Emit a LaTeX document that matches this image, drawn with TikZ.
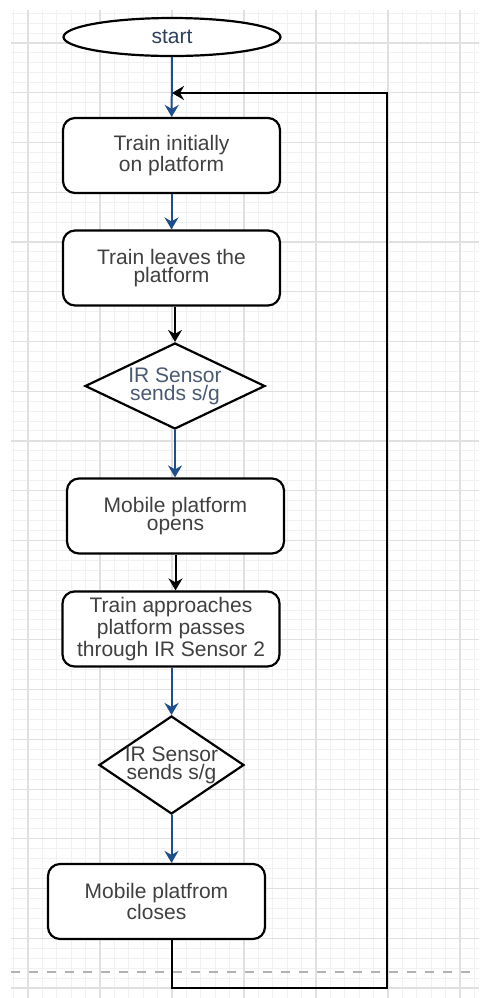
\documentclass[tikz,border=0pt]{standalone}
\usepackage{fontspec}
\setmainfont{Liberation Sans}
\usetikzlibrary{shapes.geometric,arrows.meta}

\definecolor{flowblue}{HTML}{1F4E8C}
\definecolor{startblue}{HTML}{2E405C}
\definecolor{sensorblue}{HTML}{4A5A72}
\definecolor{boxtext}{HTML}{404040}
\definecolor{majorgrid}{HTML}{E0E0E0}
\definecolor{minorgrid}{HTML}{F1F1F1}

\tikzset{
  myfont/.style={font=\fontsize{10.5}{9}\selectfont},
  mybox/.style={draw, line width=1.1pt, rounded corners=6pt, fill=white,
    minimum width=108.5pt, minimum height=37.5pt, inner sep=0pt,
    align=center, text=boxtext, myfont},
  mydiamond/.style={draw, diamond, line width=1.1pt, fill=white, inner sep=0pt,
    align=center, text=boxtext, myfont},
  blueflow/.style={draw=flowblue, line width=1pt,
    -{Stealth[length=6pt,width=7pt,inset=2pt]}},
  blackflow/.style={draw=black, line width=1pt,
    -{Stealth[length=6pt,width=7pt,inset=2pt]}}
}

\begin{document}
\begin{tikzpicture}[x=0.5pt,y=-0.5pt]

% page
\fill[white] (0,0) rectangle (479,998);
\useasboundingbox (0,0) rectangle (479,998);

% grid, fine lines
\foreach \i in {-1,...,31}
  \draw[minorgrid, line width=0.5pt] (28+14.4*\i,10) -- (28+14.4*\i,998);
\foreach \i in {-3,...,96}
  \draw[minorgrid, line width=0.5pt] (11,43+9.948*\i) -- (479,43+9.948*\i);

% grid, main lines
\foreach \i in {0,...,6}
  \draw[majorgrid, line width=0.6pt] (28+72*\i,10) -- (28+72*\i,998);
\foreach \i in {0,...,19}
  \draw[majorgrid, line width=0.6pt] (11,43+49.74*\i) -- (479,43+49.74*\i);

% page break
\draw[gray!60, line width=0.75pt, dash pattern=on 4.5pt off 4.5pt] (11,972) -- (479,972);

% steps
\node[draw, ellipse, line width=1.1pt, fill=white, minimum width=108.5pt,
  minimum height=19pt, inner sep=0pt, text=startblue, myfont] (start) at (172,37) {start};
\node[mybox] (onplat) at (171.5,155.5) {Train initially\\on platform};
\node[mybox] (leaves) at (171.5,268) {Train leaves the\\platform};
\node[mydiamond, aspect=2.1, minimum width=90pt, minimum height=43pt, text=sensorblue]
  (sensa) at (175,386) {IR Sensor\\sends s/g};
\node[mybox] (opens) at (175.5,516) {Mobile platform\\opens};
\node[mybox] (approach) at (171,629) {Train approaches\\platform passes\\through IR Sensor 2};
\node[mydiamond, aspect=1.48, inner sep=-2.5pt, minimum width=72.5pt, minimum height=49pt]
  (sensb) at (171.5,765) {IR Sensor\\sends s/g};
\node[mybox] (closes) at (156.5,901.5) {Mobile platfrom\\closes};

% connect the steps
\draw[blueflow] (start) -- (onplat);
\draw[blueflow] (onplat) -- (leaves);
\draw[blackflow] (sensa.north |- leaves.south) -- (sensa.north);
\draw[blueflow] (sensa) -- (sensa.south |- opens.north);
\draw[blackflow] (opens) -- (opens |- approach.north);
\draw[blueflow] (sensb.north |- approach.south) -- (sensb.north);
\draw[blueflow] (sensb) -- (sensb.south |- closes.north);

% back to the start
\coordinate (lowturn) at (387,988);
\coordinate (highturn) at (387,93);
\draw[blackflow] (closes.south -| sensb) |- (lowturn) -- (highturn)
  -- (start.south |- highturn);

\end{tikzpicture}
\end{document}
